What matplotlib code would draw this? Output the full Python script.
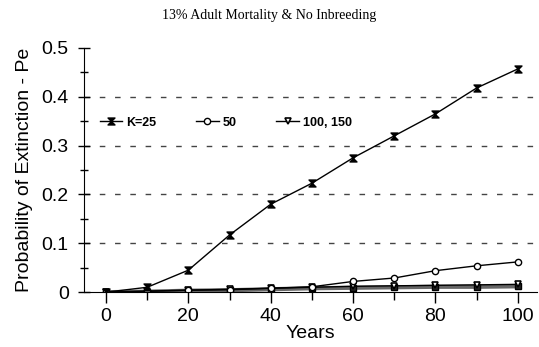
import matplotlib
matplotlib.use('Agg')
import matplotlib.pyplot as plt
from matplotlib.path import Path
from matplotlib.ticker import MultipleLocator

years = [0, 10, 20, 30, 40, 50, 60, 70, 80, 90, 100]
pe_k25 = [0, 0.01, 0.045, 0.117, 0.18, 0.223, 0.275, 0.32, 0.365, 0.418, 0.457]
pe_k50 = [0, 0.002, 0.004, 0.005, 0.008, 0.011, 0.022, 0.029, 0.044, 0.054, 0.062]
pe_k100 = [0, 0.002, 0.004, 0.006, 0.008, 0.010, 0.012, 0.013, 0.014, 0.015, 0.016]
pe_k150 = [0, 0.001, 0.003, 0.004, 0.006, 0.008, 0.009, 0.010, 0.011, 0.011, 0.012]

# hourglass marker for K=25
hourglass = Path([(-1, 1), (1, 1), (0, 0), (1, -1), (-1, -1), (0, 0), (-1, 1)],
                 [Path.MOVETO] + [Path.LINETO] * 5 + [Path.CLOSEPOLY])

plt.rcParams['font.family'] = ['Liberation Sans', 'DejaVu Sans']

fig = plt.figure(figsize=(5.39, 3.47), dpi=100)
ax = fig.add_axes([0.156, 0.158, 0.84, 0.704])

ax.plot(years, pe_k150, color='#666666', lw=3, marker='s', ms=5,
        mfc='#222222', mec='black', mew=1)
ax.plot(years, pe_k100, color='black', lw=1, marker='v', ms=5,
        mfc='white', mec='black', mew=1.2, label='100, 150')
ax.plot(years, pe_k50, color='black', lw=1, marker='o', ms=4.5,
        mfc='white', mec='black', mew=1, label='50')
ax.plot(years, pe_k25, color='black', lw=1, marker=hourglass, ms=5,
        mfc='black', mec='black', label='K=25')

for y in [0.1, 0.2, 0.3, 0.4]:
    ax.axhline(y, color='#444444', lw=1, ls=(0, (4, 7)), zorder=0)

ax.set_xlim(-5.3, 104.6)
ax.set_ylim(0, 0.5)
ax.xaxis.set_major_locator(MultipleLocator(20))
ax.xaxis.set_minor_locator(MultipleLocator(10))
ax.yaxis.set_major_locator(MultipleLocator(0.1))
ax.yaxis.set_minor_locator(MultipleLocator(0.05))
ax.yaxis.set_major_formatter(plt.FuncFormatter(lambda v, p: '0' if v == 0 else f'{v:.1f}'))
ax.tick_params(axis='both', which='major', direction='inout', length=8, width=1,
               labelsize=14)
ax.tick_params(axis='both', which='minor', direction='inout', length=6, width=1)
ax.tick_params(axis='x', which='both', direction='out')
ax.tick_params(axis='y', which='major', pad=7)

for s in ['top', 'right']:
    ax.spines[s].set_visible(False)

ax.set_xlabel('Years', fontsize=14, labelpad=0)
ax.set_ylabel('Probability of Extinction - Pe', fontsize=14, labelpad=6)

handles, labels = ax.get_legend_handles_labels()
order = [2, 1, 0]
leg = ax.legend([handles[i] for i in order], [labels[i] for i in order],
                loc='upper left', bbox_to_anchor=(0.01, 0.765), ncol=3,
                frameon=False, handlelength=1.8, handletextpad=0.3,
                columnspacing=3.2, prop={'weight': 'bold', 'size': 9})

fig.text(0.5, 0.945, '13% Adult Mortality & No Inbreeding', ha='center',
         fontsize=10, family='Liberation Serif')

fig.savefig('out.png', dpi=100)
